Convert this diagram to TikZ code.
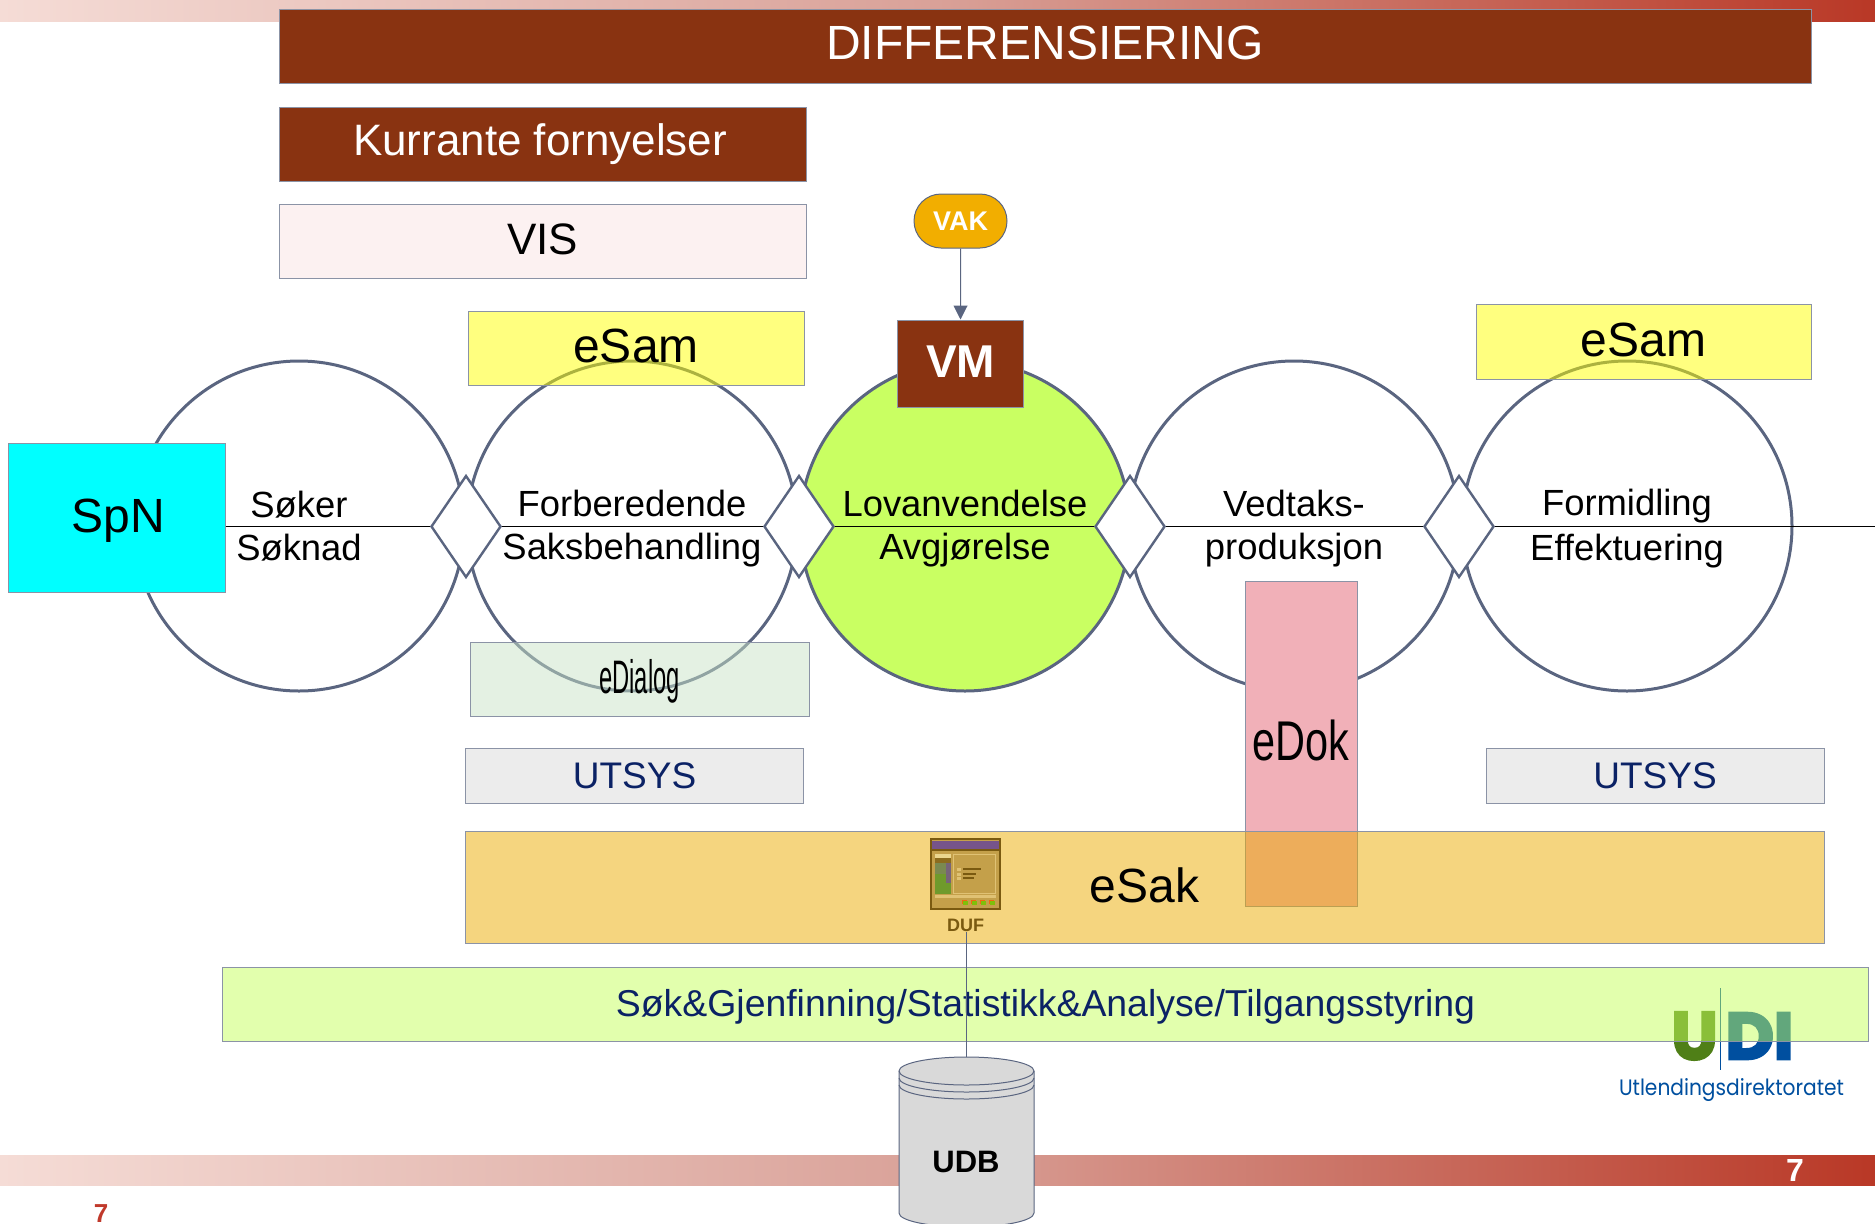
\documentclass[tikz,border=0pt]{standalone}
\usepackage{fontspec}
\setmainfont{Liberation Sans}
\newfontfamily\logofont{Poppins}[BoldFeatures={FakeBold=4}]
\usetikzlibrary{arrows.meta,shapes.geometric,shapes.misc}
\newcommand{\fsz}[1]{\fontsize{#1}{#1}\selectfont}
\newcommand{\ringstrut}{\rule[-6pt]{0pt}{37pt}}
\definecolor{rust}{HTML}{893311}
\definecolor{edge}{HTML}{5A6580}
\definecolor{navy}{HTML}{0B2265}
\definecolor{barleft}{HTML}{F5DCD6}
\definecolor{barmiddle}{HTML}{D9A198}
\definecolor{barright}{HTML}{B93826}
\definecolor{vispink}{HTML}{FCF1F1}
\definecolor{lawgreen}{HTML}{C9FF62}
\definecolor{samyellow}{HTML}{FFFF00}
\definecolor{dialoggreen}{HTML}{C9E3C7}
\definecolor{spncyan}{HTML}{00FFFF}
\definecolor{vakorange}{HTML}{F2AE00}
\definecolor{sysgrey}{HTML}{ECECEC}
\definecolor{dokpink}{HTML}{F1B0B8}
\definecolor{sakorange}{HTML}{EBAB00}
\definecolor{sokgreen}{HTML}{C5FF5B}
\definecolor{logogreen}{HTML}{4F7F17}
\definecolor{logoblue}{HTML}{004F9F}
\definecolor{dufbrown}{HTML}{7A5A10}
\definecolor{duftan}{HTML}{C4A04A}
\definecolor{dufpurple}{HTML}{76548A}
\definecolor{dufcream}{HTML}{EBD68E}
\definecolor{dufleaf}{HTML}{6F9A2C}
\definecolor{dufmoss}{HTML}{7A8A50}
\definecolor{dufpale}{HTML}{E0C274}
\definecolor{dufdot}{HTML}{7FC00A}
\definecolor{dufember}{HTML}{F06A10}
\definecolor{drumgrey}{HTML}{D9D9D9}
\definecolor{pagered}{HTML}{C0392B}
\tikzset{
	box/.style={draw=edge!70, line width=1pt, rectangle, inner sep=0pt, anchor=center},
	rustbox/.style={box, fill=rust, text=white},
	glassbox/.style={box, fill opacity=0.5, text opacity=1},
	ring/.style={draw=edge, line width=3pt, circle, minimum size=330pt, inner sep=0pt, align=center, font=\fsz{36.4}},
	gate/.style={draw=edge, line width=2.4pt, fill=white, diamond, minimum width=70pt, minimum height=102pt, inner sep=0pt},
	wire/.style={draw=black, line width=1pt},
	band/.style={left color=barleft, right color=barright, middle color=barmiddle, draw=none},
	drum/.style={draw=edge, line width=1pt},
	iconbit/.style={draw=none, fill=#1}
}
\begin{document}
\begin{tikzpicture}[x=1pt, y=-1pt]
	\useasboundingbox (0,0) rectangle (1875,1224);
	%%%%% BANDS %%%%%
	\path[band] (0,0) rectangle (1875,21);
	\path[band] (0,1155) rectangle (1875,1185);

	%%%%% TOP BOXES %%%%%
	\node[rustbox, minimum width=1532pt, minimum height=74pt, text height=34.4pt, text depth=6.8pt, font=\fsz{48}] (differensiering) at (1045,46) {DIFFERENSIERING};
	\node[rustbox, minimum width=527pt, minimum height=74pt, font=\fsz{44}] (kurrante) at (542.5,144) {\hspace*{-4.8pt}Kurrante fornyelser};
	\node[box, fill=vispink, minimum width=527pt, minimum height=74pt, text height=31.5pt, text depth=4.8pt, font=\fsz{44}] (vis) at (542.5,241) {VIS};

	%%%%% RINGS %%%%%
	\node[ring] (soker) at (299,526) {\ringstrut Søker\\[5pt]\ringstrut Søknad};
	\node[ring] (forberedende) at (632,526) {\ringstrut Forberedende\\[5pt]\ringstrut Saksbehandling};
	\node[ring, fill=lawgreen] (lovanvendelse) at (965,526) {\ringstrut Lovanvendelse\\[5pt]\ringstrut Avgjørelse};
	\node[ring] (vedtak) at (1294,526) {\ringstrut Vedtaks-\\[5pt]\ringstrut produksjon};
	\node[ring] (formidling) at (1627,526) {\ringstrut Formidling\\[5pt]\ringstrut Effektuering};

	\node[glassbox, fill=samyellow, minimum width=336pt, minimum height=74pt, text height=34.4pt, text depth=4.8pt, font=\fsz{48}] (esamleft) at (636,348) {eSam};
	\node[glassbox, fill=samyellow, minimum width=335pt, minimum height=75pt, text height=34.4pt, text depth=4.8pt, font=\fsz{48}] (esamright) at (1643.5,342) {eSam};
	\node[glassbox, fill=dialoggreen, minimum width=339pt, minimum height=74pt, text height=33.7pt, text depth=5.7pt, font=\fsz{47}] (edialog) at (639.5,679) {\scalebox{.505}[1]{eDialog}};

	%%%%% PROCESS LINE %%%%%
	\node[box, fill=spncyan, minimum width=217pt, minimum height=149pt, text height=34.4pt, text depth=5pt, font=\fsz{48}] (spn) at (116.5,517.5) {\hspace*{3pt}SpN};
	\node[gate] (gatea) at (466,526.5) {};
	\node[gate] (gateb) at (799,526.5) {};
	\node[gate] (gatec) at (1130,526.5) {};
	\node[gate] (gated) at (1459,526.5) {};
	\coordinate (lineend) at (1875,526.5);
	\draw[wire] (spn.east |- gatea) -- (gatea) -- (gateb) -- (gatec) -- (gated) -- (lineend);

	%%%%% VM %%%%%
	\node[rustbox, minimum width=126pt, minimum height=87pt, text height=33pt, text depth=4.8pt, font=\bfseries\fsz{46}] (vm) at (960.5,363.5) {VM};
	\node[draw=edge, line width=1pt, fill=vakorange, rounded rectangle, minimum width=93pt, minimum height=54pt, inner sep=0pt, text=white, font=\bfseries\fsz{27}] (vak) at (960.5,221) {VAK};
	\draw[wire, draw=edge, -{Triangle[length=14pt,width=14pt]}] (vak) -- (vm);

	%%%%% LOWER BOXES %%%%%
	\node[box, fill=sysgrey, minimum width=338pt, minimum height=55pt, text=navy, font=\fsz{37}] (utsysleft) at (634.5,775.5) {UTSYS};
	\node[box, fill=sysgrey, minimum width=338pt, minimum height=55pt, text=navy, font=\fsz{37}] (utsysright) at (1655,775.5) {UTSYS};
	\node[box, fill=dokpink, minimum width=112pt, minimum height=325pt, text height=40pt, text depth=7pt, font=\fsz{56}] (edok) at (1301,743.5) {\scalebox{.74}[1]{eDok}};
	\node[glassbox, fill=sakorange, minimum width=1359pt, minimum height=112pt, text height=34.4pt, text depth=3.6pt, font=\fsz{48}] (esak) at (1144.5,887) {eSak};

	%%%%% LOGO %%%%%
	\node[inner sep=0pt, text=logogreen] (logou) at (1694.5,1036) {\resizebox{46pt}{47pt}{\logofont\bfseries U}};
	\node[inner sep=0pt, text=logoblue] (logodi) at (1759.5,1036) {\resizebox{68pt}{46pt}{\logofont\bfseries DI}};
	\coordinate (logotop) at (1720,988);
	\coordinate (logobottom) at (1720,1070);
	\draw[draw=logoblue, line width=.8pt] (logotop) -- (logobottom);
	\node[inner sep=0pt, text=logoblue] (logotext) at (1731.5,1090.5) {\resizebox{225pt}{17pt}{\logofont Utlendingsdirektoratet}};

	%%%%% SEARCH BAR %%%%%
	\node[glassbox, fill=sokgreen, text=navy, minimum width=1646pt, minimum height=74pt, text height=27pt, text depth=3pt, font=\fsz{37.4}] (sok) at (1045.5,1004) {Søk\&Gjenfinning/Statistikk\&Analyse/Tilgangsstyring};

	%%%%% DUF %%%%%
	\path[iconbit=dufbrown] (930,838) rectangle (1001,910);
	\path[iconbit=duftan] (932,840) rectangle (999,908);
	\path[iconbit=dufpurple] (932,841) rectangle (999,849);
	\path[iconbit=dufbrown] (932,849) rectangle (999,851);
	\path[iconbit=dufcream] (935,854) rectangle (951,858);
	\path[iconbit=dufbrown!75!duftan] (935,858) rectangle (951,863);
	\path[iconbit=dufleaf] (935,863) rectangle (946,894);
	\path[iconbit=dufmoss] (935,863) rectangle (946,874);
	\path[iconbit=dufpurple!70!dufmoss] (946,863) rectangle (951,894);
	\path[iconbit=dufleaf] (946,883) rectangle (951,894);
	\path[iconbit=dufpale] (953,854) rectangle (996,894);
	\path[iconbit=duftan] (954,855) rectangle (995,893);
	\path[iconbit=dufpale] (935,895) rectangle (996,898);
	\foreach \rowy/\rowx in {868/981,873/976,877/974} {
		\path[iconbit=dufpale] (957,\rowy) rectangle +(4,3);
		\path[iconbit=dufbrown] (963,\rowy) rectangle (\rowx,\rowy+2);
	}
	\foreach \dotx in {962,971,980,989} {
		\path[iconbit=dufember] (\dotx,900) rectangle +(5,4);
		\path[iconbit=dufdot] (\dotx+1,901) rectangle +(5,4);
	}
	\node[text=dufbrown, font=\bfseries\fsz{18}, inner sep=1pt] (duf) at (965.5,925) {DUF};

	%%%%% UDB %%%%%
	\draw[drum, fill=drumgrey] (899,1071) -- (899,1213) arc (180:0:67.5 and 14) -- (1034,1071) arc (360:180:67.5 and 14) -- cycle;
	\draw[drum] (899,1071) arc (180:0:67.5 and 14);
	\draw[drum] (899,1078) arc (180:0:67.5 and 14);
	\draw[drum] (899,1085) arc (180:0:67.5 and 14);
	\node[font=\bfseries\fsz{31}] (udb) at (966,1162) {UDB};
	\coordinate (udbtop) at (966,1057);
	\draw[wire, draw=edge] (duf.south -| udbtop) -- (udbtop);

	%%%%% PAGE NUMBERS %%%%%
	\node[text=white, font=\bfseries\fsz{32}] (pagewhite) at (1795,1170) {7};
	\node[text=pagered, inner sep=0pt, font=\bfseries\fsz{26}] (pagenumber) at (101,1213.5) {7};
\end{tikzpicture}
\end{document}
